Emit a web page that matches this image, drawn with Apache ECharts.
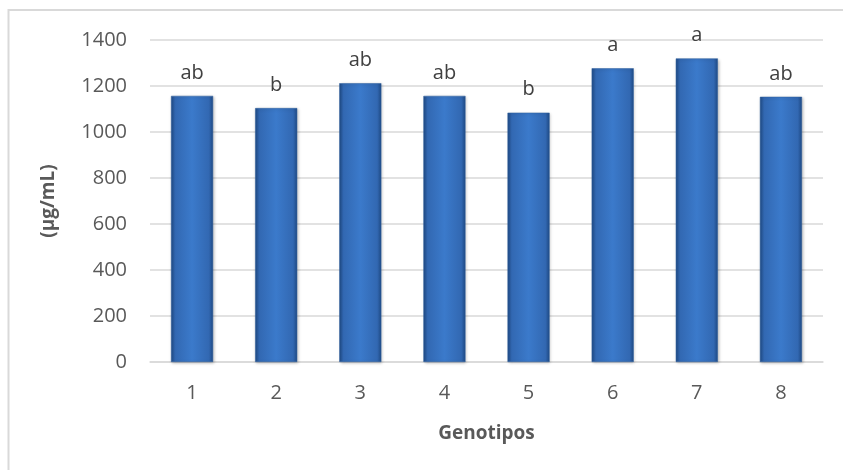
<!DOCTYPE html>
<html><head><meta charset="utf-8">
<script src="https://cdn.jsdelivr.net/npm/echarts@6/dist/echarts.min.js"></script>
<style>html,body{margin:0;padding:0;background:#fff}#c{width:843px;height:470px}</style>
</head><body><div id="c"></div>
<script>
const categories = ['1','2','3','4','5','6','7','8'];
const values = [1157, 1104, 1212, 1157, 1084, 1277, 1320, 1153];
const letters = ['ab','b','ab','ab','b','a','a','ab'];
const yTicks = {min: 0, max: 1400, interval: 200};

const chart = echarts.init(document.getElementById('c'));
const font = '"Open Sans", sans-serif';
chart.setOption({
  animation: false,
  graphic: [{type:'rect', shape:{x:8.5,y:10,width:900,height:500}, style:{fill:'none', stroke:'#d9d9d9', lineWidth:2}, z:-1}],
  grid: {left:150, right:20, top:40, bottom:108},
  xAxis: {
    type:'category', data: categories,
    name:'Genotipos', nameLocation:'middle', nameGap:62,
    nameTextStyle:{fontFamily:font, fontWeight:'bold', fontSize:19, color:'#595959'},
    axisLine:{lineStyle:{color:'#d9d9d9', width:1.5}},
    axisTick:{show:false},
    axisLabel:{fontFamily:font, fontSize:20, color:'#595959', margin:21}
  },
  yAxis: {
    type:'value', min:yTicks.min, max:yTicks.max, interval:yTicks.interval,
    name:'(µg/mL)', nameLocation:'middle', nameGap:92, nameRotate:90,
    nameTextStyle:{fontFamily:font, fontWeight:'bold', fontSize:19, color:'#595959'},
    axisLine:{show:false}, axisTick:{show:false},
    axisLabel:{fontFamily:font, fontSize:20, color:'#595959', margin:23, formatter: v => String(v)},
    splitLine:{lineStyle:{color:'#d9d9d9', width:1.5}}
  },
  series: [{
    type:'bar', data: values, barWidth:'50%',
    itemStyle:{
      color: new echarts.graphic.LinearGradient(0,0,1,0,[
        {offset:0, color:'#1f4a85'},
        {offset:0.1, color:'#3268b2'},
        {offset:0.5, color:'#3b7acb'},
        {offset:0.9, color:'#3268b2'},
        {offset:1, color:'#1f4a85'}
      ]),
      borderColor:'#2d5f9f', borderWidth:0.5,
      shadowColor:'rgba(0,0,0,0.25)', shadowBlur:3, shadowOffsetX:1, shadowOffsetY:1
    },
    label:{
      show:true, position:'top', distance:13,
      formatter: p => letters[p.dataIndex],
      fontFamily:font, fontSize:20, color:'#404040'
    }
  }]
});
</script></body></html>
